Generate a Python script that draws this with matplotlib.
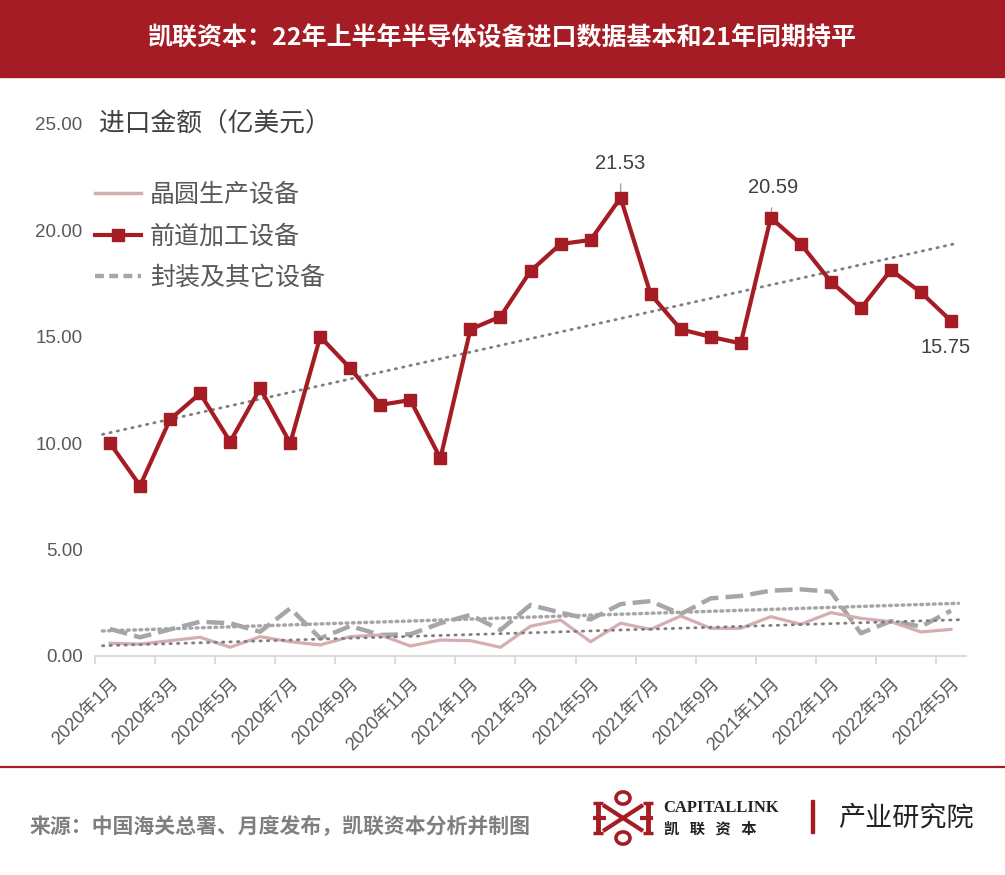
import numpy as np
import matplotlib
matplotlib.use("Agg")
import matplotlib.pyplot as plt
from matplotlib.patches import Rectangle, Circle
from matplotlib.lines import Line2D

plt.rcParams['font.family'] = ['Liberation Sans', 'Noto Sans CJK SC', 'DejaVu Sans']

months = [f"{y}年{m}月" for y, m in
          [(2020, i) for i in range(1, 13)] + [(2021, i) for i in range(1, 13)] + [(2022, i) for i in range(1, 6)]]

wafer = [0.60, 0.56, 0.72, 0.88, 0.41, 0.91, 0.67, 0.52, 0.91, 0.99, 0.47, 0.75, 0.72, 0.41, 1.40,
         1.69, 0.67, 1.54, 1.25, 1.88, 1.30, 1.30, 1.85, 1.49, 2.04, 1.77, 1.61, 1.13, 1.25]
front = [10.00, 8.00, 11.12, 12.34, 10.07, 12.58, 10.00, 15.00, 13.52, 11.80, 12.03, 9.29, 15.35, 15.95, 18.09,
         19.36, 19.55, 21.53, 17.00, 15.35, 15.00, 14.69, 20.59, 19.36, 17.59, 16.34, 18.14, 17.09, 15.75]
pack = [1.27, 0.88, 1.25, 1.61, 1.54, 1.14, 2.24, 0.83, 1.41, 0.99, 1.02, 1.54, 1.93, 1.22, 2.40,
        2.04, 1.72, 2.44, 2.58, 1.97, 2.71, 2.82, 3.07, 3.13, 3.02, 1.07, 1.64, 1.38, 2.13]
series_names = ["晶圆生产设备", "前道加工设备", "封装及其它设备"]
yticks = [0, 5, 10, 15, 20, 25]

RED = "#A61C24"
W, H = 1005, 875
fig = plt.figure(figsize=(W / 100, H / 100), dpi=100)

def fx(px): return px / W
def fy(py): return 1 - py / H

# Header bar
fig.patches.append(Rectangle((0, fy(77)), 1, 77 / H, transform=fig.transFigure, color=RED, zorder=0))
fig.text(0.5, fy(38), "凯联资本：22年上半年半导体设备进口数据基本和21年同期持平", color="white",
         fontsize=18, fontweight="bold", ha="center", va="center", family=['Noto Sans CJK SC'])

# Axes
ax = fig.add_axes([fx(95), fy(656), fx(966) - fx(95), (656 - 124) / H])
x = np.arange(len(months))

ax.plot(x, wafer, color="#D4AEB0", lw=2.3, zorder=3)
ax.plot(x, front, color=RED, lw=3, marker="s", markersize=8, zorder=5)
ax.plot(x, pack, color="#A6A6A6", lw=3.2, dashes=(4.0, 1.6), zorder=2)

# trend lines (linear fits)
for vals, col, lw, dsh in [(front, "#7F7F7F", 2.0, (0.5, 2.2)),
                           (pack, "#A6A6A6", 2.5, (0.5, 1.3)),
                           (wafer, "#7F7F7F", 2.0, (0.5, 2.2))]:
    k, b = np.polyfit(x, vals, 1)
    xx = np.array([-0.25, len(x) - 1 + 0.25])
    ax.plot(xx, k * xx + b, color=col, lw=lw, dashes=dsh, dash_capstyle="round", zorder=4)

ax.set_xlim(-0.5, len(x) - 0.5)
ax.set_ylim(0, 25)
for s in ["top", "right", "left"]:
    ax.spines[s].set_visible(False)
ax.spines["bottom"].set_color("#D9D9D9")
ax.spines["bottom"].set_linewidth(1.3)

ax.set_yticks(yticks)
ax.set_yticklabels([f"{v:.2f}" for v in yticks], fontsize=13.5, color="#595959")
ax.tick_params(axis="y", length=0, pad=9)

ax.set_xticks(np.arange(-0.5, len(x) - 0.5, 2))
ax.set_xticklabels([])
ax.tick_params(axis="x", which="major", length=6, color="#D9D9D9", width=1.3)
ax.set_xticks(x[::2], minor=True)
ax.set_xticklabels(months[::2], minor=True, rotation=45, ha="right", rotation_mode="anchor",
                   fontsize=13, color="#595959")
ax.tick_params(axis="x", which="minor", length=0, pad=14)

# y-axis title
fig.text(fx(99), fy(125), "进口金额（亿美元）", fontsize=18.5, color="#404040", va="center", ha="left",
         family=['Noto Sans CJK SC'])

# Legend
handles = [Line2D([], [], color="#D4AEB0", lw=2.5),
           Line2D([], [], color=RED, lw=3, marker="s", markersize=8),
           Line2D([], [], color="#A6A6A6", lw=3.2, dashes=(2.0, 1.2))]
leg = ax.legend(handles, series_names, loc="upper left", bbox_to_anchor=(fx(95), fy(182)),
                bbox_transform=fig.transFigure, frameon=False, handlelength=1.85,
                labelspacing=0.62, handletextpad=0.35, labelcolor="#595959",
                borderpad=0, borderaxespad=0,
                prop={'family': ['Noto Sans CJK SC'], 'size': 18})

# Annotations
def annot(i, txt, dx, dy, line=True):
    ax.annotate(txt, xy=(i, front[i]), xytext=(dx, dy), textcoords="offset points",
                ha="center", va="center", fontsize=14.5, color="#404040",
                arrowprops=dict(arrowstyle="-", color="#A6A6A6", lw=1, shrinkA=6, shrinkB=4) if line else None)

annot(17, "21.53", 0, 25)
annot(22, "20.59", 2, 22)
annot(28, "15.75", -4, -19, line=False)

# Footer
fig.lines.append(Line2D([0, 1], [fy(767), fy(767)], transform=fig.transFigure, color=RED, lw=1.6))
fig.text(fx(30), fy(826), "来源：中国海关总署、月度发布，凯联资本分析并制图", fontsize=15,
         color="#7F7F7F", fontweight="bold", va="center", family=['Noto Sans CJK SC'])

# logo (approximate)
def L(x0, y0, x1, y1, lw=3.2):
    fig.lines.append(Line2D([fx(x0), fx(x1)], [fy(y0), fy(y1)], transform=fig.transFigure,
                            color=RED, lw=lw, solid_capstyle="butt"))
L(598, 803, 598, 833, 3.5)
L(648, 803, 648, 833, 3.5)
L(593, 818, 606, 818, 3)
L(640, 818, 653, 818, 3)
L(603, 805, 643, 831, 3)
L(603, 831, 643, 805, 3)
L(593, 803, 603, 803, 2.5); L(593, 833, 603, 833, 2.5)
L(643, 803, 653, 803, 2.5); L(643, 833, 653, 833, 2.5)
for cy in (798, 838):
    fig.patches.append(Circle((fx(623), fy(cy)), 7 / W, transform=fig.transFigure,
                              fill=False, ec=RED, lw=2.6))
fig.text(fx(663), fy(808), "CAPITALLINK", fontsize=12, fontweight="bold", color="#222222",
         va="center", family=['Liberation Serif'])
fig.text(fx(664), fy(829), "凯   联   资   本", fontsize=11, fontweight="bold", color="#222222",
         va="center", family=['Noto Sans CJK SC'])
fig.patches.append(Rectangle((fx(811), fy(833)), 3 / W, 33 / H, transform=fig.transFigure, color=RED))
fig.text(fx(838), fy(818), "产业研究院", fontsize=19.5, color="#222222", va="center",
         family=['Noto Sans CJK SC'])

fig.savefig("out.png", dpi=100, facecolor="white")
